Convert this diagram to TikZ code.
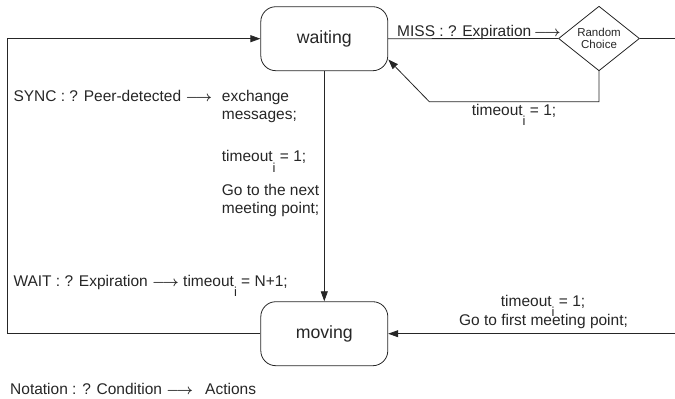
\documentclass[tikz,border=0pt]{standalone}
\usepackage{fontspec}
\setmainfont{Liberation Sans}
\usetikzlibrary{shapes.geometric,arrows.meta}
\newcommand{\tmo}{timeout\raisebox{-10.5pt}{\fontsize{13}{13}\selectfont i}}
\newcommand{\tarr}{{\boldmath$\longrightarrow$}}
\begin{document}
\begin{tikzpicture}[x=1pt,y=-1pt,
  state/.style={draw=black!85,line width=0.8pt,rounded corners=15pt,minimum width=127pt,minimum height=64pt,inner sep=0pt,font=\fontsize{17.7}{20}\selectfont,text=black!85},
  choicebox/.style={draw=black!85,line width=0.8pt,shape=diamond,minimum width=81pt,minimum height=63.5pt,inner sep=0pt,align=center,font=\fontsize{11.5}{12.7}\selectfont,text=black!85},
  lbl/.style={inner sep=0pt,font=\fontsize{15.5}{17.5}\selectfont,text=black!85},
  ln/.style={draw=black!85,line width=0.8pt},
  arr/.style={ln,-{Triangle[length=10pt,width=7pt]}}]
\useasboundingbox (0,0) rectangle (675,399);
\node[state] (waiting) at (324.3,38.7) {waiting};
\node[state] (moving) at (324.3,333.7) {moving};
\node[choicebox] (choice) at (599,38.5) {Random\\Choice};
\coordinate (L) at (7.3,0);
\coordinate (RE) at (675,38.5);
\coordinate (RB) at (675,333.7);
\coordinate (R1) at (429.3,101.7);
\coordinate (WR) at (388.3,59.5);
% connectors
\draw[arr] (moving.west) -- (moving.west -| L) -- (waiting.west -| L) -- (waiting.west);
\draw[arr] (waiting.south) -- (moving.north);
\draw[ln] (waiting.east) -- (choice.west);
\draw[ln] (choice.east) -- (RE);
\draw[arr] (choice.south) |- (R1) -- (WR);
\draw[arr] (RB) -- (moving.east);
% labels
\node[lbl,anchor=base west] (miss) at (397,36) {MISS : ? Expiration\,\tarr};
\node[lbl,anchor=base west] (t1) at (471.7,115) {\tmo{} = 1;};
\node[lbl,anchor=base west] (sync) at (13.3,101.7) {SYNC : ? Peer-detected \tarr};
\node[lbl,anchor=base west] (ex1) at (221.7,101.7) {exchange};
\node[lbl,anchor=base west] (ex2) at (221.7,119.3) {messages;};
\node[lbl,anchor=base west] (t2) at (221.7,161.7) {\tmo{} = 1;};
\node[lbl,anchor=base west] (go1) at (221.7,195.5) {Go to the next};
\node[lbl,anchor=base west] (go2) at (221.7,213) {meeting point;};
\node[lbl,anchor=base west] (wait) at (13.3,286) {WAIT : ? Expiration \tarr};
\node[lbl,anchor=base west] (t3) at (183,286) {\tmo{} = N+1;};
\node[lbl,anchor=base west] (t4) at (500.7,306) {\tmo{} = 1;};
\node[lbl,anchor=base] (gf) at (543.5,325) {Go to first meeting point;};
\node[lbl,anchor=base west] (nota) at (10,394) {Notation : ? Condition \tarr};
\node[lbl,anchor=base west] (act) at (205,394) {Actions};
\end{tikzpicture}
\end{document}
